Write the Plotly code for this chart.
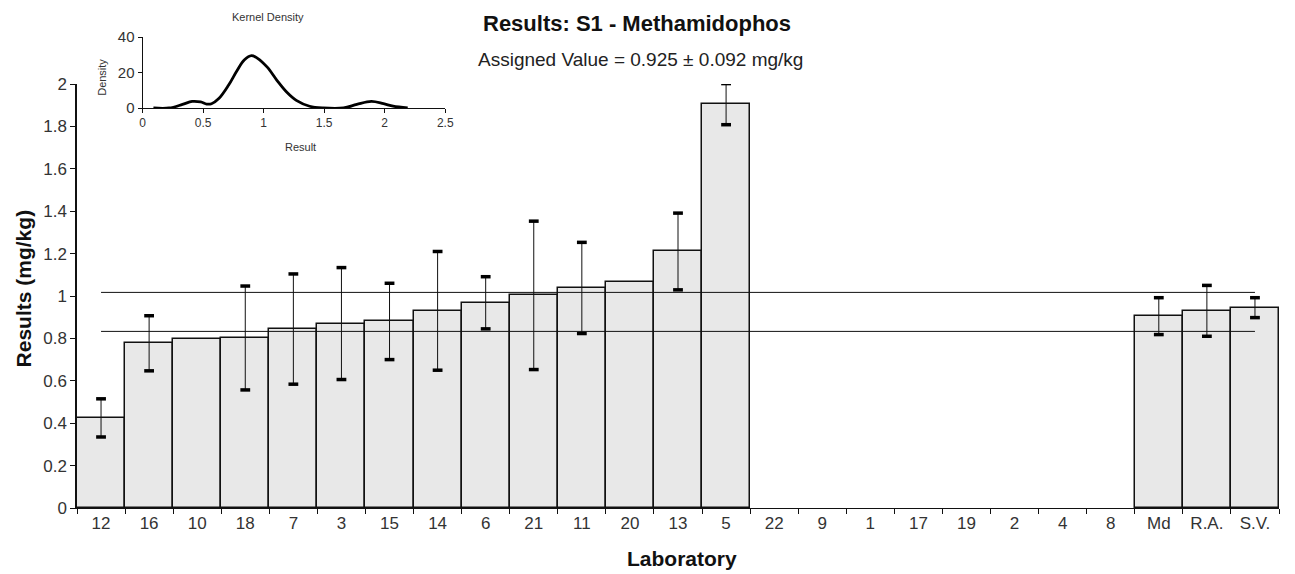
import plotly.graph_objects as go

# ---------------- data ----------------
labs = ["12", "16", "10", "18", "7", "3", "15", "14", "6", "21", "11", "20", "13", "5",
        "22", "9", "1", "17", "19", "2", "4", "8", "Md", "R.A.", "S.V."]
values = [0.425, 0.777, 0.797, 0.802, 0.844, 0.870, 0.880, 0.930, 0.968, 1.003, 1.038, 1.066,
          1.210, 1.905, None, None, None, None, None, None, None, None, 0.905, 0.930, 0.945]
errors = [0.090, 0.130, None, 0.245, 0.260, 0.264, 0.180, 0.280, 0.123, 0.350, 0.215, None,
          0.181, 0.097, None, None, None, None, None, None, None, None, 0.087, 0.120, 0.047]
assigned = 0.925
uncert = 0.092

kd_x = [0.09, 0.22, 0.33, 0.41, 0.48, 0.53, 0.57, 0.63, 0.71, 0.78, 0.84, 0.90, 0.95, 1.03,
        1.11, 1.19, 1.27, 1.38, 1.49, 1.66, 1.77, 1.89, 1.99, 2.07, 2.19]
kd_y = [0, 0, 2.0, 3.7, 3.4, 2.2, 2.4, 5.3, 12.8, 21, 27, 29.5, 28, 23,
        15.6, 9, 4.3, 1, 0, 0, 2, 3.7, 2.4, 1, 0]

FONT = "Liberation Sans, Arial, sans-serif"

# pixel geometry helpers
L, R, T, B = 77, 7, 30, 66
W, H = 1295, 574
pw, ph = W - L - R, H - T - B
def px(x):
    return (x - L) / pw
def py(y):
    return (H - B - y) / ph

fig = go.Figure()

fig.add_trace(go.Bar(
    x=labs, y=values, width=1,
    marker=dict(color="#e8e8e8", line=dict(color="#111111", width=1.5)),
    showlegend=False, hoverinfo="x+y",
))

# assigned value +/- uncertainty lines
for yv in (assigned - uncert, assigned + uncert):
    fig.add_trace(go.Scatter(
        x=[labs[0], labs[-1]], y=[yv, yv], mode="lines",
        line=dict(color="#111111", width=1), showlegend=False, hoverinfo="skip",
    ))

# error bars (stems) and caps
ex, ey, ee = [], [], []
cx, cy = [], []
for lab, v, e in zip(labs, values, errors):
    if v is not None and e is not None:
        ex.append(lab); ey.append(v); ee.append(e)
        cx += [lab, lab]; cy += [v + e, v - e]
fig.add_trace(go.Scatter(
    x=ex, y=ey, mode="markers", marker=dict(size=1, color="rgba(0,0,0,0)"),
    error_y=dict(type="data", array=ee, visible=True, color="#111111", thickness=1, width=0),
    showlegend=False, hoverinfo="skip",
))
fig.add_trace(go.Scatter(
    x=cx, y=cy, mode="markers",
    marker=dict(symbol="line-ew", size=7, line=dict(color="#000000", width=3.5)),
    showlegend=False, hoverinfo="skip",
))

# kernel density inset
fig.add_trace(go.Scatter(
    x=kd_x, y=kd_y, mode="lines", line=dict(color="#000000", width=2.8, shape="spline"),
    xaxis="x2", yaxis="y2", showlegend=False, hoverinfo="skip",
))

fig.update_layout(
    width=W, height=H,
    margin=dict(l=L, r=R, t=T, b=B),
    paper_bgcolor="white", plot_bgcolor="rgba(0,0,0,0)",
    bargap=0,
    font=dict(family=FONT, color="#333333"),
    xaxis=dict(
        type="category", categoryorder="array", categoryarray=labs,
        range=[-0.5, len(labs) - 0.5], domain=[0, 1],
        showline=True, linecolor="#111111", linewidth=1,
        ticks="outside", tickson="boundaries", ticklen=5, tickcolor="#111111",
        tickfont=dict(size=17, color="#333333"), showgrid=False, zeroline=False,
    ),
    yaxis=dict(
        range=[0, 2], domain=[0, py(84)], dtick=0.2, tick0=0,
        showline=True, linecolor="#111111", linewidth=1.5,
        ticks="outside", ticklen=5, tickcolor="#111111",
        tickfont=dict(size=17, color="#333333"), showgrid=False, zeroline=False,
    ),
    xaxis2=dict(
        domain=[px(143), px(448)], anchor="y2", range=[0, 2.5], dtick=0.5, tick0=0,
        showline=True, linecolor="#111111", linewidth=1,
        ticks="outside", ticklen=4, tickcolor="#111111",
        tickfont=dict(size=12, color="#333333"), showgrid=False, zeroline=False,
    ),
    yaxis2=dict(
        domain=[py(108), py(37)], anchor="x2", range=[0, 40], dtick=20, tick0=0,
        showline=True, linecolor="#111111", linewidth=1,
        ticks="outside", ticklen=4, tickcolor="#111111",
        tickfont=dict(size=15, color="#333333"), showgrid=False, zeroline=False,
    ),
    annotations=[
        dict(text="<b>Results: S1 - Methamidophos</b>", x=px(641), y=py(24),
             xref="paper", yref="paper", showarrow=False, xanchor="center", yanchor="middle",
             font=dict(size=22, color="#111111", family=FONT)),
        dict(text="Assigned Value = 0.925 ± 0.092 mg/kg", x=px(645), y=py(59),
             xref="paper", yref="paper", showarrow=False, xanchor="center", yanchor="middle",
             font=dict(size=19, color="#222222", family=FONT)),
        dict(text="<b>Results (mg/kg)</b>", x=px(23), y=py(288), textangle=-90,
             xref="paper", yref="paper", showarrow=False, xanchor="center", yanchor="middle",
             font=dict(size=21, color="#111111", family=FONT)),
        dict(text="<b>Laboratory</b>", x=px(687), y=py(558),
             xref="paper", yref="paper", showarrow=False, xanchor="center", yanchor="middle",
             font=dict(size=21, color="#111111", family=FONT)),
        dict(text="Kernel Density", x=px(269), y=py(17),
             xref="paper", yref="paper", showarrow=False, xanchor="center", yanchor="middle",
             font=dict(size=11, color="#333333", family=FONT)),
        dict(text="Density", x=px(102), y=py(77), textangle=-90,
             xref="paper", yref="paper", showarrow=False, xanchor="center", yanchor="middle",
             font=dict(size=11, color="#333333", family=FONT)),
        dict(text="Result", x=px(302), y=py(147),
             xref="paper", yref="paper", showarrow=False, xanchor="center", yanchor="middle",
             font=dict(size=11, color="#333333", family=FONT)),
    ],
)

fig.write_html("out.html")
